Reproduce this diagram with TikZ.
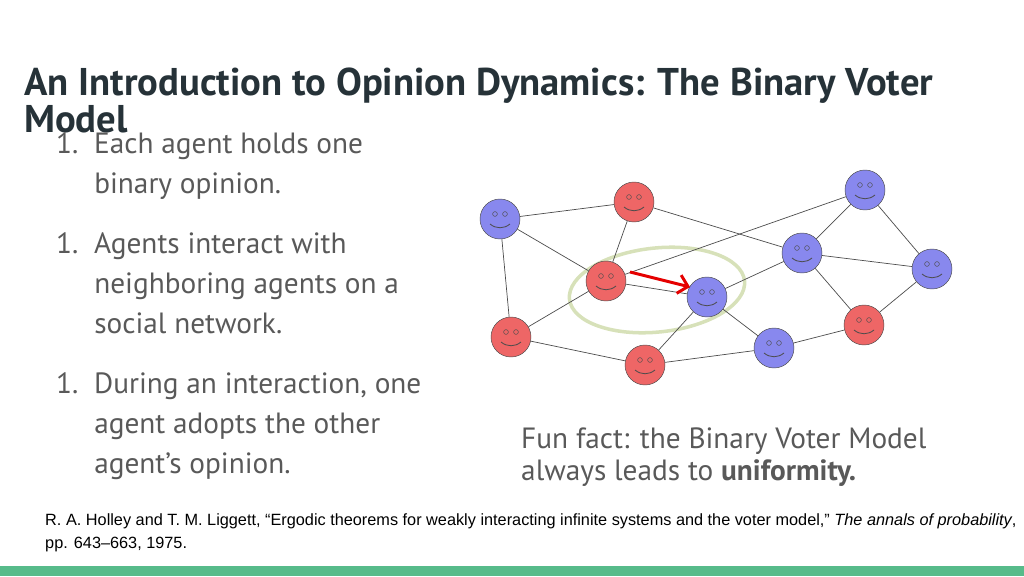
\documentclass[tikz,border=0pt]{standalone}
\usepackage{fontspec}
\setmainfont{PT Sans}
\newfontfamily\arialfont{Liberation Sans}
\definecolor{redface}{RGB}{238,102,102}
\definecolor{blueface}{RGB}{136,136,238}
\definecolor{titlegray}{RGB}{38,50,56}
\definecolor{bodygray}{RGB}{89,89,89}
\definecolor{ringgreen}{RGB}{215,225,185}
\definecolor{bargreen}{RGB}{87,187,138}
\newlength{\px}\setlength{\px}{0.03cm}
\tikzset{
  face/.style={circle, draw=black!70, minimum size=40\px, inner sep=0pt},
  redagent/.style={face, fill=redface},
  blueagent/.style={face, fill=blueface},
  link/.style={draw=black!70, line width=0.6pt},
  words/.style={anchor=base west, inner sep=0pt, align=left},
  item/.style={words, text=bodygray, font=\fontsize{25}{34}\selectfont}
}
\newcommand{\smiley}[1]{%
  \draw[black!70] ($(#1)+(-5,-5)$) circle (2.4\px);
  \draw[black!70] ($(#1)+(5,-5)$) circle (2.4\px);
  \draw[black!70, line width=0.7pt] ($(#1)+(-10,5)$) .. controls ($(#1)+(-4,10)$) and ($(#1)+(4,10)$) .. ($(#1)+(10,5)$);
}
\usetikzlibrary{calc,arrows.meta}
\begin{document}
\begin{tikzpicture}[x=0.03cm, y=-0.03cm]
  \useasboundingbox (0,0) rectangle (1024,576);
  \fill[bargreen] (0,566) rectangle (1024,576);
  % title and text (anchored at the last line's baseline)
  \node[words, text=titlegray, font=\fontsize{33}{31}\selectfont\bfseries] (title) at (24,132)
    {An Introduction to Opinion Dynamics: The Binary Voter\\Model};
  \node[item] (one) at (56,193) {1.\ \ Each agent holds one\\\hspace{1.3em}binary opinion.};
  \node[item] (two) at (56,333) {1.\ \ Agents interact with\\\hspace{1.3em}neighboring agents on a\\\hspace{1.3em}social network.};
  \node[item] (three) at (56,473) {1.\ \ During an interaction, one\\\hspace{1.3em}agent adopts the other\\\hspace{1.3em}agent’s opinion.};
  \node[words, text=bodygray, font=\fontsize{25}{27}\selectfont] (fact) at (521,480)
    {Fun fact: the Binary Voter Model\\always leads to \textbf{uniformity.}};
  \node[words, font=\arialfont\fontsize{13.9}{19.5}\selectfont] (ref) at (45,548)
    {R. A. Holley and T. M. Liggett, “Ergodic theorems for weakly interacting infinite systems and the voter model,” \textit{The annals of probability},\\pp. 643–663, 1975.};
  % highlight ring
  \draw[ringgreen, line width=3pt, rotate around={6:(657,290)}] (657,290) ellipse (88 and 42);
  % agents
  \node[blueagent] (b1) at (500,219) {};
  \node[redagent] (r1) at (634,202) {};
  \node[redagent] (r2) at (606,281) {};
  \node[blueagent] (b2) at (707,297) {};
  \node[redagent] (r3) at (511,337) {};
  \node[redagent] (r4) at (645,365) {};
  \node[blueagent] (b3) at (774,348) {};
  \node[blueagent] (b4) at (802,253) {};
  \node[blueagent] (b5) at (865,190) {};
  \node[blueagent] (b6) at (932,269) {};
  \node[redagent] (r5) at (864,325) {};
  \foreach \a/\b in {b1/r1, b1/r2, b1/r3, r1/r2, r1/b4, r2/b5, r2/b2, r2/r3, r3/r4,
    r4/b2, r4/b3, b2/b4, b2/b3, b4/b5, b4/b6, b4/r5, b5/b6, b6/r5, r5/b3}
    \draw[link] (\a) -- (\b);
  \foreach \n in {b1, r1, r2, b2, r3, r4, b3, b4, b5, b6, r5}
    {\smiley{\n}}
  % adoption arrow
  \coordinate (tail) at (630,272);
  \coordinate (head) at (690,287);
  \draw[red!90!black, line width=2.5pt, -{Straight Barb[length=8pt]}] (tail) -- (head);
\end{tikzpicture}
\end{document}
